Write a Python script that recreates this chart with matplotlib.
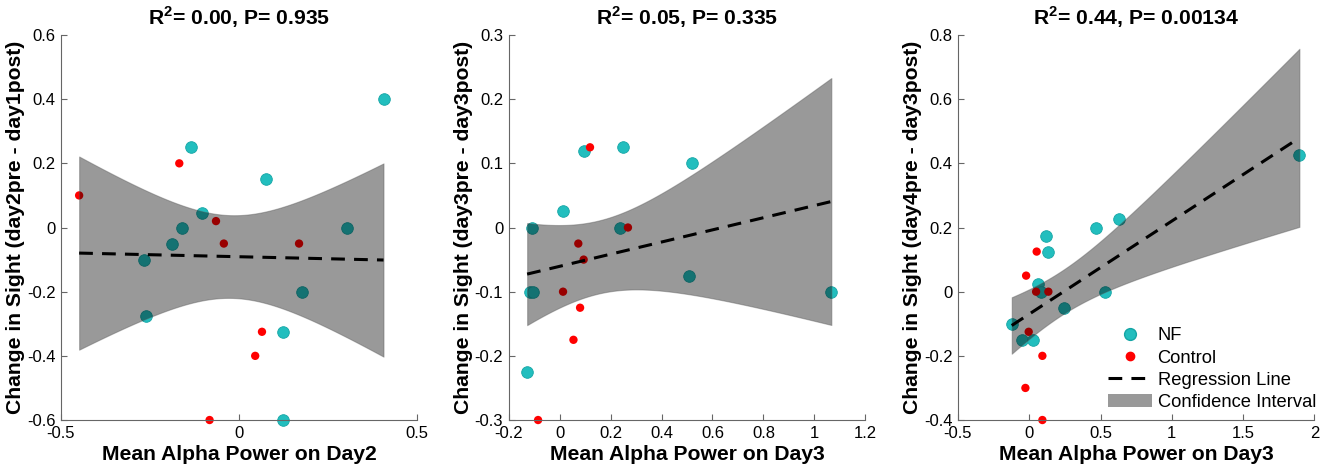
import numpy as np
import matplotlib
matplotlib.use('Agg')
import matplotlib.pyplot as plt
from matplotlib.patches import Patch
from matplotlib.lines import Line2D

plt.rcParams['font.family'] = ['Liberation Sans', 'DejaVu Sans']
plt.rcParams['axes.unicode_minus'] = False
plt.rcParams['mathtext.fontset'] = 'custom'
plt.rcParams['mathtext.rm'] = 'Liberation Sans'
plt.rcParams['mathtext.bf'] = 'Liberation Sans:bold'

# Data
# Panel 1: day2
nf1_x = [0.405, -0.135, 0.075, -0.103, -0.159, -0.189, -0.266, -0.262, 0.176, 0.302, 0.124, 0.122]
nf1_y = [0.40, 0.25, 0.15, 0.045, 0.0, -0.05, -0.10, -0.275, -0.20, 0.0, -0.325, -0.60]
ct1_x = [-0.449, -0.168, -0.065, -0.043, 0.168, 0.064, 0.045, -0.083]
ct1_y = [0.10, 0.20, 0.02, -0.05, -0.05, -0.325, -0.40, -0.60]

# Panel 2: day3
nf2_x = [-0.110, -0.115, -0.105, -0.128, 0.013, 0.094, 0.248, 0.237, 0.518, 0.506, 1.067]
nf2_y = [0.0, -0.10, -0.10, -0.225, 0.025, 0.12, 0.125, 0.0, 0.10, -0.075, -0.10]
ct2_x = [0.119, 0.268, 0.073, 0.094, 0.013, 0.080, 0.054, -0.085]
ct2_y = [0.125, 0.0, -0.025, -0.05, -0.10, -0.125, -0.175, -0.30]

# Panel 3: day3 vs day4
nf3_x = [1.895, 0.630, 0.469, 0.120, 0.134, 0.061, 0.082, 0.534, 0.241, -0.123, -0.053, 0.024]
nf3_y = [0.425, 0.225, 0.20, 0.175, 0.125, 0.025, 0.0, 0.0, -0.05, -0.10, -0.15, -0.15]
ct3_x = [0.052, -0.022, 0.048, 0.134, -0.004, 0.092, -0.027, 0.092]
ct3_y = [0.125, 0.05, 0.0, 0.0, -0.125, -0.20, -0.30, -0.40]

titles = [r'R$^{\mathbf{2}}$= 0.00, P= 0.935',
          r'R$^{\mathbf{2}}$= 0.05, P= 0.335',
          r'R$^{\mathbf{2}}$= 0.44, P= 0.00134']
xlabels = ['Mean Alpha Power on Day2', 'Mean Alpha Power on Day3', 'Mean Alpha Power on Day3']
ylabels = ['Change in Sight (day2pre - day1post)',
           'Change in Sight (day3pre - day3post)',
           'Change in Sight (day4pre - day3post)']
xlims = [(-0.5, 0.5), (-0.2, 1.2), (-0.5, 2.0)]
ylims = [(-0.6, 0.6), (-0.3, 0.3), (-0.4, 0.8)]
xticks = [[-0.5, 0, 0.5], np.arange(-0.2, 1.21, 0.2), np.arange(-0.5, 2.01, 0.5)]
yticks = [np.arange(-0.6, 0.61, 0.2), np.arange(-0.3, 0.31, 0.1), np.arange(-0.4, 0.81, 0.2)]

panels = [(nf1_x, nf1_y, ct1_x, ct1_y),
          (nf2_x, nf2_y, ct2_x, ct2_y),
          (nf3_x, nf3_y, ct3_x, ct3_y)]

t_crit = 2.10  # 95%, df ~ 18

cyan = '#22BEBE'
axcol = '#666666'

fig = plt.figure(figsize=(13.25, 4.73), dpi=100)
lefts = [0.046, 0.384, 0.723]

def fmt(v):
    v = round(v, 6)
    return '%g' % v if v != 0 else '0'

for i, (nx, ny, cx, cy) in enumerate(panels):
    ax = fig.add_axes([lefts[i], 0.112, 0.269, 0.814])
    ax.scatter(nx, ny, s=70, color=cyan, edgecolors='#15A5A5', linewidths=0.6, zorder=2, clip_on=False)
    ax.scatter(cx, cy, s=36, color='red', edgecolors='none', zorder=2, clip_on=False)

    # regression and confidence band over all points
    x = np.array(nx + cx)
    y = np.array(ny + cy)
    n = len(x)
    b, a = np.polyfit(x, y, 1)
    res = y - (a + b * x)
    s = np.sqrt(np.sum(res ** 2) / (n - 2))
    xs = np.linspace(x.min(), x.max(), 200)
    yh = a + b * xs
    half = t_crit * s * np.sqrt(1.0 / n + (xs - x.mean()) ** 2 / np.sum((x - x.mean()) ** 2))
    ax.fill_between(xs, yh - half, yh + half, facecolor='black', alpha=0.4,
                    edgecolor='#555555', linewidth=0.8, zorder=3)
    ax.plot(xs, yh, color='black', lw=2.2, linestyle=(0, (4.5, 3)), zorder=4)

    ax.set_xlim(xlims[i])
    ax.set_ylim(ylims[i])
    ax.set_xticks(xticks[i])
    ax.set_yticks(yticks[i])
    ax.set_xticklabels([fmt(v) for v in xticks[i]])
    ax.set_yticklabels([fmt(v) for v in yticks[i]])
    for sp in ['top', 'right']:
        ax.spines[sp].set_visible(False)
    for sp in ['left', 'bottom']:
        ax.spines[sp].set_color(axcol)
        ax.spines[sp].set_linewidth(0.8)
    ax.tick_params(direction='in', length=4, width=0.8, color=axcol,
                   labelsize=12, labelcolor='black', pad=4)
    ax.set_title(titles[i], fontsize=15.2, fontweight='bold', pad=7)
    ax.set_xlabel(xlabels[i], fontsize=15.2, fontweight='bold', labelpad=3)
    ax.set_ylabel(ylabels[i], fontsize=15.2, fontweight='bold', labelpad=1)

    if i == 2:
        handles = [Line2D([], [], marker='o', ls='none', color=cyan, markeredgecolor='#15A5A5', markersize=8.5),
                   Line2D([], [], marker='o', ls='none', color='red', markersize=6),
                   Line2D([], [], color='black', lw=2.2, linestyle=(0, (4.5, 3))),
                   Patch(facecolor='black', alpha=0.4, edgecolor='none')]
        ax.legend(handles, ['NF', 'Control', 'Regression Line', 'Confidence Interval'],
                  loc='lower right', frameon=False, fontsize=13.2, handlelength=2.4,
                  handletextpad=0.3, labelspacing=0.28, borderaxespad=0.1,
                  bbox_to_anchor=(1.03, 0.0))

fig.savefig('out.png', dpi=100)
